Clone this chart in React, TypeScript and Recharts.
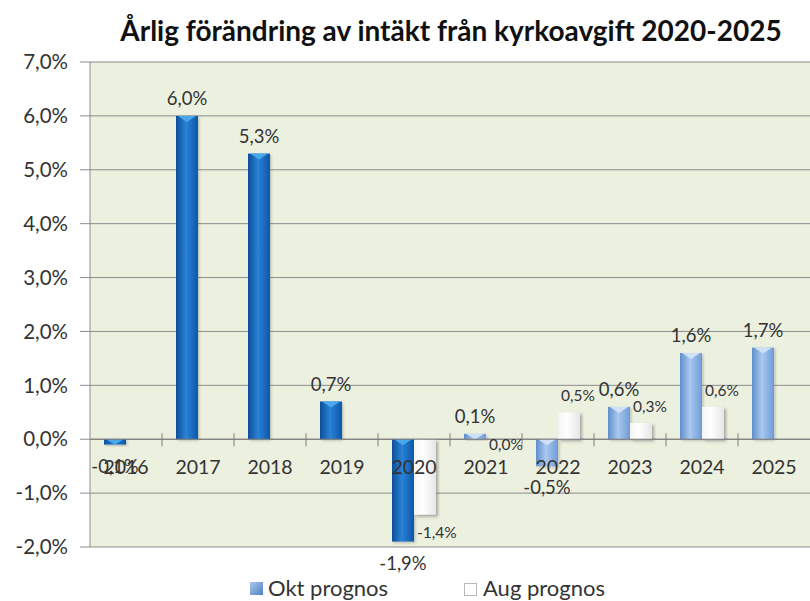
import React from 'react';
import { BarChart, Bar, XAxis, YAxis, CartesianGrid, ReferenceLine, LabelList } from 'recharts';

const categories = ['2016', '2017', '2018', '2019', '2020', '2021', '2022', '2023', '2024', '2025'];
const oktValues: (number | null)[] = [-0.1, 6.0, 5.3, 0.7, -1.9, 0.1, -0.5, 0.6, 1.6, 1.7];
const augValues: (number | null)[] = [null, null, null, null, -1.4, 0.0, 0.5, 0.3, 0.6, null];
const yTicks = [-2, -1, 0, 1, 2, 3, 4, 5, 6, 7];
const seriesNames = ['Okt prognos', 'Aug prognos'];
const titleText = 'Årlig förändring av intäkt från kyrkoavgift 2020-2025';

const data = categories.map((c, i) => ({ year: c, okt: oktValues[i], aug: augValues[i] }));

const W = 810;
const H = 601;
const PLOT_TOP = 62;
const PLOT_LEFT = 90;
const PLOT_BOTTOM = 547;
const X_AXIS_H = 1;
const PLOT_H = PLOT_BOTTOM - PLOT_TOP;
const PLOT_W = W - PLOT_LEFT;
const Y_MIN = yTicks[0];
const Y_MAX = yTicks[yTicks.length - 1];
const ZERO_Y = PLOT_TOP + (PLOT_H * (Y_MAX - 0)) / (Y_MAX - Y_MIN);
const FONT = 'Lato, "DejaVu Sans", sans-serif';

const fmt = (v: number) => v.toFixed(1).replace('.', ',') + '%';

function norm(p: any) {
  const y = Number(p.y);
  const h = Number(p.height);
  const top = Math.min(y, y + h);
  const hh = Math.abs(h);
  return { top, h: hh, bottom: top + hh };
}

function OktShape(props: any) {
  const { x, width, payload } = props;
  const { top, h } = norm(props);
  if (!isFinite(top) || width <= 0) return null;
  const forecast = Number(payload.year) > 2020;
  const fill = forecast ? 'url(#gLight)' : 'url(#gDark)';
  const hl = forecast ? '#cfe1f7' : '#4aa8ec';
  const hlH = Math.min(6, h);
  return (
    <g filter="url(#shadowSoft)">
      <rect x={x} y={top} width={width} height={h} fill={fill} />
      <path d={`M${x + 2},${top} L${x + width - 2},${top} L${x + width / 2},${top + hlH} Z`} fill={hl} />
    </g>
  );
}

function AugShape(props: any) {
  const { x, width } = props;
  const { top, h } = norm(props);
  if (!isFinite(top) || width <= 0 || h <= 0) return null;
  return (
    <g filter="url(#shadow)">
      <rect x={x} y={top} width={width} height={h} fill="url(#gWhite)" />
    </g>
  );
}

function OktLabel(props: any) {
  const { x, width, value } = props;
  if (value === null || value === undefined) return null;
  const { top, bottom } = norm(props);
  const cy = value > 0 ? top - 18 : bottom + 21;
  return (
    <text x={x + width / 2} y={cy} textAnchor="middle" dominantBaseline="central" fontFamily={FONT} fontSize={18.5} fill="#333">
      {fmt(value)}
    </text>
  );
}

function AugLabel(props: any) {
  const { x, value } = props;
  if (value === null || value === undefined) return null;
  const { top, bottom } = norm(props);
  const cy = value > 0 ? top - 17 : value === 0 ? top + 5 : bottom + 17;
  return (
    <text x={x + 3} y={cy} textAnchor="start" dominantBaseline="central" fontFamily={FONT} fontSize={15.5} fill="#333">
      {fmt(value)}
    </text>
  );
}

function CatTick(props: any) {
  const { x, payload, index } = props;
  const band = PLOT_W / categories.length;
  return (
    <g>
      {index > 0 && (
        <line x1={x - band / 2} x2={x - band / 2} y1={ZERO_Y - 6} y2={ZERO_Y + 7} stroke="#7f7f7f" strokeWidth={1} />
      )}
      <text x={x} y={ZERO_Y + 27} textAnchor="middle" dominantBaseline="central" fontFamily={FONT} fontSize={19.5} fill="#333">
        {payload.value}
      </text>
    </g>
  );
}

export default function App() {
  return (
    <div style={{ position: 'absolute', left: 0, top: 0, width: W, height: H, background: '#fff' }}>
      <svg width={0} height={0} style={{ position: 'absolute' }}>
        <defs>
          <linearGradient id="gDark" x1="0" y1="0" x2="1" y2="0">
            <stop offset="0" stopColor="#0b4f9a" />
            <stop offset="0.45" stopColor="#2b82d6" />
            <stop offset="1" stopColor="#0c58a8" />
          </linearGradient>
          <linearGradient id="gLight" x1="0" y1="0" x2="1" y2="0">
            <stop offset="0" stopColor="#5f8ecb" />
            <stop offset="0.45" stopColor="#a9c8ef" />
            <stop offset="1" stopColor="#6f9cd6" />
          </linearGradient>
          <linearGradient id="gWhite" x1="0" y1="0" x2="1" y2="0">
            <stop offset="0" stopColor="#f4f4f4" />
            <stop offset="0.4" stopColor="#ffffff" />
            <stop offset="1" stopColor="#e6e6e6" />
          </linearGradient>
          <filter id="shadow" x="-50%" y="-20%" width="200%" height="150%">
            <feDropShadow dx="2" dy="2" stdDeviation="1.6" floodColor="#6b6b6b" floodOpacity="0.55" />
          </filter>
          <filter id="shadowSoft" x="-50%" y="-20%" width="200%" height="150%">
            <feDropShadow dx="1.5" dy="1.5" stdDeviation="1.2" floodColor="#6b6b6b" floodOpacity="0.35" />
          </filter>
        </defs>
      </svg>
      <div
        style={{
          position: 'absolute',
          left: 0,
          top: 14,
          width: 902,
          textAlign: 'center',
          fontFamily: FONT,
          fontWeight: 700,
          fontSize: 28,
          lineHeight: '32px',
          color: '#111',
          whiteSpace: 'nowrap',
        }}
      >
        {titleText}
      </div>
      <BarChart
        width={W}
        height={H}
        data={data}
        margin={{ top: PLOT_TOP, right: 0, left: 0, bottom: H - PLOT_BOTTOM - X_AXIS_H }}
        barGap={0}
        barSize={22}
      >
        <CartesianGrid vertical={false} stroke="#8c8c8c" fill="#ecf0df" fillOpacity={1} />
        <XAxis dataKey="year" axisLine={false} tickLine={false} height={X_AXIS_H} interval={0} tick={<CatTick />} />
        <YAxis
          domain={[Y_MIN, Y_MAX]}
          ticks={yTicks}
          type="number"
          allowDataOverflow
          width={PLOT_LEFT}
          tickFormatter={fmt}
          tickSize={10}
          tickMargin={12}
          axisLine={{ stroke: '#8c8c8c' }}
          tickLine={{ stroke: '#8c8c8c' }}
          tick={{ fill: '#333', fontSize: 20.5, fontFamily: FONT }}
        />
        <ReferenceLine y={0} stroke="#7a7a7a" strokeWidth={1} />
        <Bar dataKey="okt" name={seriesNames[0]} shape={<OktShape />} isAnimationActive={false}>
          <LabelList dataKey="okt" content={<OktLabel />} />
        </Bar>
        <Bar dataKey="aug" name={seriesNames[1]} shape={<AugShape />} isAnimationActive={false}>
          <LabelList dataKey="aug" content={<AugLabel />} />
        </Bar>
      </BarChart>
      <div style={{ position: 'absolute', left: 0, top: 576, width: W, height: 24, fontFamily: FONT, fontSize: 22, color: '#333' }}>
        <div style={{ position: 'absolute', left: 250, top: 6, width: 13, height: 13, background: 'linear-gradient(135deg, #a9c8ef, #4f7fc0)' }} />
        <div style={{ position: 'absolute', left: 268, top: 0, lineHeight: '24px', whiteSpace: 'nowrap' }}>{seriesNames[0]}</div>
        <div style={{ position: 'absolute', left: 464, top: 7, width: 11, height: 11, background: '#fff', border: '1px solid #b8b8b8' }} />
        <div style={{ position: 'absolute', left: 483, top: 0, lineHeight: '24px', whiteSpace: 'nowrap' }}>{seriesNames[1]}</div>
      </div>
    </div>
  );
}
